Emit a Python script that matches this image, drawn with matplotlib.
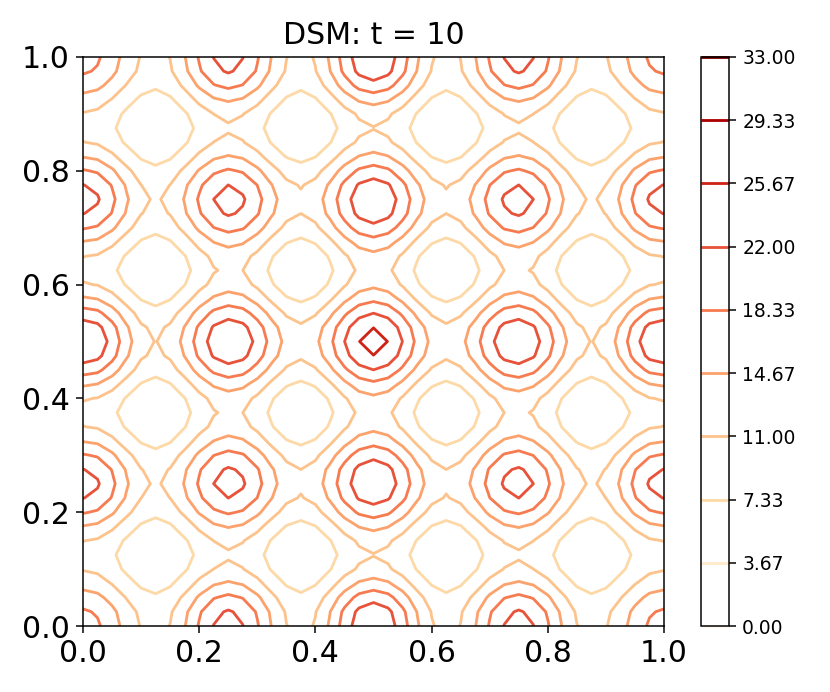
import numpy as np
import matplotlib
matplotlib.use("Agg")
import matplotlib.pyplot as plt

# contour levels shown on the colorbar
levels = np.linspace(0, 33, 10)

# peak heights, at x, y = 0, .25, .5, .75, 1 (rows = y)
peak_heights = np.array([
    [19.8, 23.4, 25.4, 23.4, 19.8],
    [23.4, 23.4, 25.2, 23.4, 23.4],
    [25.5, 25.2, 27.0, 25.2, 25.5],
    [23.4, 23.4, 25.2, 23.4, 23.4],
    [19.8, 23.4, 25.4, 23.4, 19.8],
])
low_level = 3.8        # value in the low spots between four peaks
saddle_edge = 9.8      # saddle value next to the box edge
saddle_rise = 2.8      # extra saddle height towards the middle

n = 41
x = np.linspace(0, 1, n)
y = np.linspace(0, 1, n)
X, Y = np.meshgrid(x, y)

# 0 in the low spots / cell edges, 1 on the peak rows and columns
u = (1 + np.cos(8 * np.pi * X)) / 2
v = (1 + np.cos(8 * np.pi * Y)) / 2

saddle = saddle_edge + saddle_rise * np.sin(np.pi * X) * np.sin(np.pi * Y)

i = np.rint(X * 4).astype(int)
j = np.rint(Y * 4).astype(int)
saddle_pk = saddle_edge + saddle_rise * np.sin(np.pi * i / 4) * np.sin(np.pi * j / 4)
coef = peak_heights[j, i] - 2 * saddle_pk + low_level

F = low_level + (saddle - low_level) * (u + v) + coef * u * v

fig = plt.figure(figsize=(830 / 135, 692 / 135), dpi=135)
ax = fig.add_axes([83 / 830, 1 - 626 / 692, 581 / 830, 569 / 692])
cax = fig.add_axes([701 / 830, 1 - 626 / 692, 28 / 830, 569 / 692])

cs = ax.contour(X, Y, F, levels=levels, cmap="OrRd", linewidths=1.5)
ax.set_xlim(0, 1)
ax.set_ylim(0, 1)
ax.set_xticks([0, 0.2, 0.4, 0.6, 0.8, 1.0])
ax.set_yticks([0, 0.2, 0.4, 0.6, 0.8, 1.0])
ax.tick_params(labelsize=16)
ax.set_title("DSM: t = 10", fontsize=16, pad=7)

cb = fig.colorbar(cs, cax=cax, ticks=levels, format="%.2f")
cb.ax.tick_params(labelsize=10)

fig.savefig("out.png", dpi=135)
